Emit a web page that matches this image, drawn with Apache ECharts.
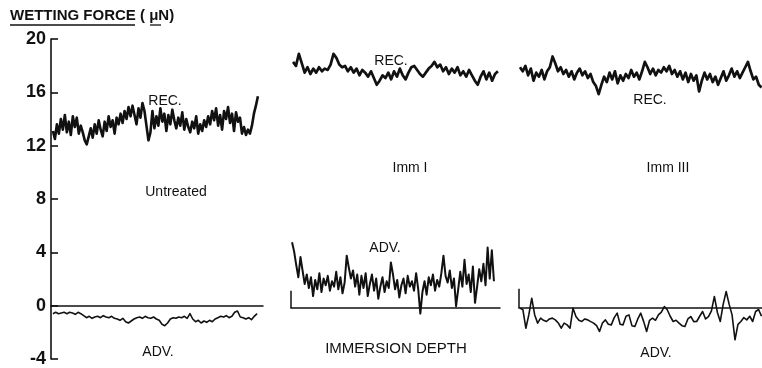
<!DOCTYPE html>
<html><head><meta charset="utf-8">
<script src="https://cdn.jsdelivr.net/npm/echarts@6/dist/echarts.min.js"></script>
<style>html,body{margin:0;padding:0;background:#fff}#c{width:762px;height:368px}</style>
</head><body><div id="c"></div>
<script>
// ---- data (wetting force, µN) ----
const yRange = [-4, 20];
const yStep = 4;
const panels = ['Untreated', 'Imm I', 'Imm III'];

const untreatedRec = [13.1,12.5,13.6,12.9,14.0,13.2,14.3,13.0,13.8,12.8,14.2,13.4,14.1,12.9,13.5,
  13.0,12.4,12.1,12.7,13.3,
  12.6,13.6,12.9,13.9,13.2,12.7,13.8,13.1,14.2,13.4,13.9,12.9,14.1,13.6,14.4,13.7,14.6,
  14.0,14.9,14.2,15.0,14.3,13.6,14.8,14.1,15.2,14.6,
  13.5,12.4,13.0,
  14.6,13.3,14.2,13.5,14.8,13.8,14.4,13.1,14.3,13.6,14.7,13.9,13.3,14.1,13.5,14.5,13.2,14.0,13.4,13.0,13.8,13.3,14.2,12.9,13.6,13.1,13.9,13.4,
  14.2,13.6,14.6,13.9,14.8,13.5,14.3,13.2,14.6,14.0,14.9,13.7,14.4,13.1,14.5,13.8,14.1,12.9,13.4,12.8,
  13.2,12.9,13.5,14.4,15.0,15.7];
const untreatedAdv = [-0.6,-0.5,-0.6,-0.55,-0.5,-0.6,-0.5,-0.55,-0.65,-0.5,-0.6,-0.75,-0.9,-0.8,-0.95,-0.85,-0.8,-0.9,-0.75,-0.85,
  -0.9,-0.8,-0.95,-1.0,-1.1,-0.95,-1.2,-1.3,-1.15,-1.0,-0.9,-0.85,-0.95,-0.8,-0.9,-0.95,-0.85,-1.0,-1.1,-1.4,
  -1.5,-1.3,-1.0,-0.9,-0.95,-0.85,-0.9,-0.8,-0.95,-0.6,-1.0,-1.2,-1.1,-1.3,-1.15,-1.25,-1.1,-1.2,-1.0,-0.9,
  -0.8,-0.85,-0.75,-0.9,-0.8,-0.5,-0.4,-0.85,-0.9,-1.0,-0.9,-1.05,-0.8,-0.6];
const imm1Rec = [18.3,18.0,18.9,18.2,17.5,17.9,17.4,17.8,17.5,17.9,17.6,17.8,17.7,18.1,18.9,18.6,18.1,17.9,18.0,17.6,
  17.9,17.5,17.8,17.3,17.7,17.5,17.2,17.6,17.1,16.6,16.9,17.3,17.1,17.5,17.0,17.6,17.2,17.8,17.3,17.0,
  17.5,17.9,18.0,17.7,17.4,17.2,17.5,17.8,18.0,18.3,17.9,18.1,17.6,17.9,17.4,17.8,17.5,17.9,17.3,17.6,
  17.2,17.7,17.3,16.9,16.6,17.2,17.6,17.0,17.5,16.9,17.4,17.6];
const imm1Adv = [4.9,4.2,3.2,2.3,3.8,2.8,1.8,2.5,1.5,2.3,0.9,2.1,1.4,2.6,1.2,2.2,1.7,2.4,1.3,2.0,
  1.6,2.7,1.4,2.3,1.1,1.9,3.9,3.0,2.2,2.8,1.6,2.5,1.0,2.4,1.5,2.6,0.9,1.8,2.5,1.3,
  2.2,0.7,1.6,2.3,1.2,2.0,1.5,3.4,2.5,1.4,2.1,0.8,1.7,2.2,1.1,2.4,1.6,2.0,1.3,2.6,
  1.4,-0.4,1.2,2.0,1.0,2.3,1.7,2.5,1.3,2.1,1.6,2.6,3.9,2.4,1.9,2.8,1.5,2.2,0.15,1.4,
  2.7,1.6,3.6,1.8,2.5,1.2,3.1,0.4,1.6,2.9,2.0,3.3,1.7,4.5,2.2,4.3,2.0];
const imm3Rec = [17.9,17.6,18.0,17.3,17.8,16.9,17.5,17.2,17.7,17.0,17.6,17.9,18.7,18.2,17.6,17.9,17.4,17.7,17.2,17.6,
  17.0,17.5,17.8,17.3,17.6,17.1,17.4,16.8,16.5,15.9,16.6,17.2,16.8,17.5,17.0,17.6,16.7,17.3,16.9,17.4,
  17.1,17.7,17.2,17.5,17.0,17.6,18.3,17.9,17.4,17.8,17.3,17.7,17.5,17.9,17.6,18.0,17.4,17.7,17.2,17.6,
  17.0,17.5,16.8,17.4,16.9,17.3,16.1,16.9,17.5,17.0,17.4,16.8,17.2,16.6,17.1,17.6,16.9,17.3,17.8,17.2,
  17.6,17.1,17.5,17.9,18.3,17.6,17.0,17.2,16.6,16.4];
const imm3Adv = [0,-0.12,-1.49,-0.5,0.74,-0.5,-1.11,-0.74,-0.9,-0.99,-0.8,-0.74,-0.87,-1.1,-1.49,-1.11,-1.24,-1.49,0,-0.62,
  -0.9,-0.99,-0.8,-0.87,-1.0,-1.11,-1.3,-1.73,-1.1,-0.87,-1.2,-1.24,-0.7,-0.37,-1.2,-1.24,-0.6,-0.5,-1.3,-1.36,
  -0.8,-0.37,-1.0,-1.73,-0.9,-0.74,-0.9,-0.5,-0.3,0.12,-0.12,-0.6,-0.99,-0.9,-1.11,-1.3,-1.36,-0.8,-0.62,-1.0,
  -0.99,-0.6,-0.25,-0.8,-0.62,-0.2,0.87,-0.3,-0.99,0.3,1.24,0.3,-0.5,-2.35,-1.2,-0.99,-0.7,-0.87,-0.6,-0.99,
  -0.25,-0.1,-0.6];
const startMarkTop = [1.3, 1.45];   // little vertical start marks of Imm I / Imm III baselines

// ---- layout ----
const grids = [
  {left: 51, width: 212, top: 39, height: 323},
  {left: 291, width: 209, top: 39, height: 323},
  {left: 519, width: 243, top: 39, height: 323}
];
function spread(vals, a, b) {
  const n = vals.length;
  return vals.map((v, i) => [a + i * (b - a) / (n - 1), v]);
}
const FONT = 'Liberation Sans, Arial, sans-serif';
const INK = '#111';

const xAxes = grids.map((g, i) => ({
  type: 'value', gridIndex: i, min: 0, max: 1,
  axisLine: {show: true, onZero: true, lineStyle: {color: INK, width: 1.5}},
  axisTick: {show: false}, axisLabel: {show: false}, splitLine: {show: false}
}));
const yAxes = grids.map((g, i) => ({
  type: 'value', gridIndex: i, min: yRange[0], max: yRange[1], interval: yStep,
  show: i === 0,
  axisLine: {show: true, lineStyle: {color: INK, width: 1.6}},
  axisTick: {show: true, inside: true, length: 7, lineStyle: {color: INK, width: 1.6}},
  axisLabel: {show: true, margin: 5, color: INK, fontSize: 18, fontWeight: 'bold', fontFamily: FONT},
  splitLine: {show: false}
}));

function trace(name, vals, gi, a, b, w) {
  return {
    name, type: 'line', xAxisIndex: gi, yAxisIndex: gi, data: spread(vals, a, b),
    showSymbol: false, symbol: 'none', smooth: false, clip: false,
    lineStyle: {color: INK, width: w, join: 'round'}, silent: true, animation: false
  };
}
const series = [
  trace('Untreated REC.', untreatedRec, 0, 0.009, 0.976, 2.6),
  trace('Untreated ADV.', untreatedAdv, 0, 0.009, 0.972, 1.6),
  trace('Imm I REC.', imm1Rec, 1, 0.010, 0.990, 2.7),
  trace('Imm I ADV.', imm1Adv, 1, 0.005, 0.971, 2.0),
  trace('Imm III REC.', imm3Rec, 2, 0.004, 0.998, 2.7),
  trace('Imm III ADV.', imm3Adv, 2, 0.004, 0.998, 1.6),
  {name: 'start I', type: 'line', xAxisIndex: 1, yAxisIndex: 1, data: [[0, 0], [0, startMarkTop[0]]],
   symbol: 'none', lineStyle: {color: INK, width: 1.5}, animation: false, silent: true},
  {name: 'start III', type: 'line', xAxisIndex: 2, yAxisIndex: 2, data: [[0, 0], [0, startMarkTop[1]]],
   symbol: 'none', lineStyle: {color: INK, width: 1.5}, animation: false, silent: true}
];

function label(text, x, y, size, weight) {
  return {type: 'text', x, y, style: {text, fill: INK, font: (weight || 'normal') + ' ' + size + 'px ' + FONT,
    textAlign: 'center', textVerticalAlign: 'middle'}};
}
const graphic = [
  {type: 'text', left: 10, top: 8, style: {text: 'WETTING FORCE', fill: INK, font: 'bold 15px ' + FONT}},
  {type: 'text', left: 140, top: 8, style: {text: '( \u03bcN)', fill: INK, font: 'bold 15px ' + FONT}},
  {type: 'line', shape: {x1: 10, y1: 25, x2: 135, y2: 25}, style: {stroke: INK, lineWidth: 1.3}},
  {type: 'line', shape: {x1: 150, y1: 25, x2: 161, y2: 25}, style: {stroke: INK, lineWidth: 1.3}},
  label('REC.', 165, 101, 14),
  label('Untreated', 176, 192, 14),
  label('ADV.', 158, 352, 14),
  label('REC.', 391, 61, 14),
  label('Imm I', 410, 168, 14),
  label('ADV.', 385, 248, 14),
  label('IMMERSION DEPTH', 396, 349, 15),
  label('REC.', 650, 100, 14),
  label('Imm III', 668, 168, 14),
  label('ADV.', 656, 353, 14)
];

const chart = echarts.init(document.getElementById('c'), null, {renderer: 'canvas'});
chart.setOption({
  animation: false,
  backgroundColor: '#fff',
  grid: grids,
  xAxis: xAxes,
  yAxis: yAxes,
  series,
  graphic
});
</script></body></html>
